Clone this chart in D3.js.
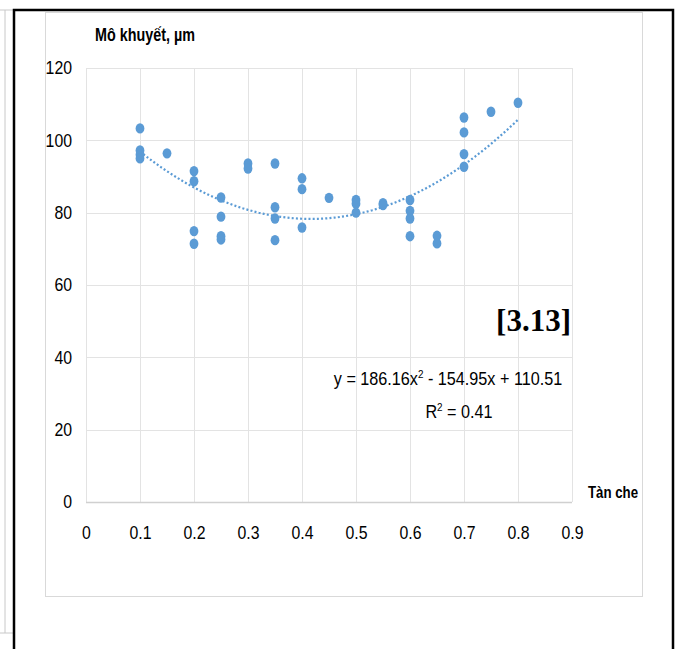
<!DOCTYPE html>
<html>
<head>
<meta charset="utf-8">
<script src="https://cdn.jsdelivr.net/npm/d3@7"></script>
<style>
  body { margin: 0; background: #fff; }
  svg text { font-family: "Liberation Sans", sans-serif; fill: #000; }
</style>
</head>
<body>
<svg id="chart" width="680" height="649"></svg>
<script>
// values
const xValues = [0.1, 0.1, 0.1, 0.1, 0.15,
    0.2, 0.2, 0.2, 0.2,
    0.25, 0.25, 0.25, 0.25,
    0.3, 0.3,
    0.35, 0.35, 0.35, 0.35,
    0.4, 0.4, 0.4,
    0.45,
    0.5, 0.5, 0.5,
    0.55, 0.55,
    0.6, 0.6, 0.6, 0.6,
    0.65, 0.65,
    0.7, 0.7, 0.7, 0.7,
    0.75, 0.8];
const yValues = [103.3, 97.2, 96, 95, 96.4,
    91.5, 88.7, 74.9, 71.4,
    84.2, 78.9, 73.5, 72.6,
    93.6, 92.2,
    93.6, 81.5, 78.4, 72.4,
    89.5, 86.5, 75.9,
    84.1,
    83.5, 82.5, 80,
    82.6, 82.1,
    83.5, 80.5, 78.4, 73.5,
    73.6, 71.5,
    106.3, 102.2, 96.2, 92.7,
    107.9, 110.4];
const xTicks = [0, 0.1, 0.2, 0.3, 0.4, 0.5, 0.6, 0.7, 0.8, 0.9];
const yTicks = [0, 20, 40, 60, 80, 100, 120];
const trendCoef = [186.16, -154.95, 110.51]; // a x^2 + b x + c
const trendRange = [0.1, 0.8];

const svg = d3.select("#chart");
const blue = "#5b9bd5";

// text squeezed sideways, the original uses a narrow font
function narrowText(x0, y0, sx, anchor) {
    return svg.append("g").attr("transform", `translate(${x0},${y0}) scale(${sx},1)`)
        .append("text").attr("text-anchor", anchor || "start");
}

// page frame (scanned table borders)
svg.append("line").attr("x1", 5).attr("y1", 10).attr("x2", 5).attr("y2", 633).attr("stroke", "#c8c8c8");
svg.append("line").attr("x1", 0).attr("y1", 633).attr("x2", 14).attr("y2", 633).attr("stroke", "#c8c8c8");
svg.append("line").attr("x1", 0).attr("y1", 10).attr("x2", 14).attr("y2", 10).attr("stroke", "#c8c8c8");
svg.append("path").attr("d", "M14,649V10H673V649").attr("fill", "none").attr("stroke", "#000").attr("stroke-width", 2.5);

// chart area box
svg.append("rect").attr("x", 45.5).attr("y", 12.5).attr("width", 597).attr("height", 584)
    .attr("fill", "#fff").attr("stroke", "#d9d9d9");

const x = d3.scaleLinear().domain([0, 0.9]).range([86, 572]);
const y = d3.scaleLinear().domain([0, 120]).range([502, 68]);

// grid
const grid = svg.append("g");
grid.selectAll(".gx").data(xTicks).join("line")
    .attr("x1", d => Math.round(x(d)) + 0.5).attr("x2", d => Math.round(x(d)) + 0.5)
    .attr("y1", y(120)).attr("y2", y(0)).attr("stroke", "#e3e3e3");
grid.selectAll(".gy").data(yTicks).join("line")
    .attr("x1", x(0)).attr("x2", x(0.9))
    .attr("y1", d => Math.round(y(d)) + 0.5).attr("y2", d => Math.round(y(d)) + 0.5)
    .attr("stroke", d => d === 0 ? "#d0d0d0" : "#e3e3e3").attr("stroke-width", d => d === 0 ? 1.5 : 1);

// axis labels via d3 axes, lines hidden
const xAxis = svg.append("g").attr("transform", "translate(0,533)")
    .call(d3.axisBottom(x).tickValues(xTicks).tickFormat(d => d3.format("")(d)).tickSize(0));
xAxis.select(".domain").remove();
xAxis.selectAll("text").attr("dy", "0.35em").attr("y", 0).attr("transform", "scale(0.88,1)")
    .style("font-size", "18px").style("font-family", "'Liberation Sans', sans-serif").attr("fill", "#000");

const yAxis = svg.append("g").attr("transform", "translate(72,0)")
    .call(d3.axisLeft(y).tickValues(yTicks).tickSize(0));
yAxis.select(".domain").remove();
yAxis.selectAll("text").attr("x", 0).attr("transform", "scale(0.88,1)")
    .style("font-size", "18px").style("font-family", "'Liberation Sans', sans-serif").attr("fill", "#000");

// trend line
const trendXs = d3.range(0, 71).map(i => trendRange[0] + i * (trendRange[1] - trendRange[0]) / 70);
const line = d3.line().x(d => x(d)).y(d => y(trendCoef[0] * d * d + trendCoef[1] * d + trendCoef[2]));
svg.append("path").datum(trendXs).attr("d", line).attr("fill", "none")
    .attr("stroke", blue).attr("stroke-width", 2.2).attr("stroke-dasharray", "2 2.2");

// points
svg.append("g").selectAll("ellipse").data(xValues).join("ellipse")
    .attr("cx", (d, i) => x(d)).attr("cy", (d, i) => y(yValues[i]))
    .attr("rx", 4.4).attr("ry", 5.2).attr("fill", blue);

// axis titles
narrowText(95, 41, 0.82).style("font-size", "17.5px").style("font-weight", "bold").text("Mô khuyết, µm");
narrowText(588, 498, 0.78).style("font-size", "17px").style("font-weight", "bold").text("Tàn che");

// reference tag
svg.append("text").attr("x", 571).attr("y", 331).attr("text-anchor", "end")
    .style("font-family", "'Liberation Serif', serif").style("font-size", "31px").style("font-weight", "bold")
    .text("[3.13]");

// trend equation
const eq = narrowText(448, 385, 0.9, "middle").style("font-size", "18px");
eq.append("tspan").text("y = 186.16x");
eq.append("tspan").attr("dy", -7).style("font-size", "11px").text("2");
eq.append("tspan").attr("dy", 7).text(" - 154.95x + 110.51");
const r2 = narrowText(459, 418, 0.9, "middle").style("font-size", "18px");
r2.append("tspan").text("R");
r2.append("tspan").attr("dy", -7).style("font-size", "11px").text("2");
r2.append("tspan").attr("dy", 7).text(" = 0.41");
</script>
</body>
</html>
